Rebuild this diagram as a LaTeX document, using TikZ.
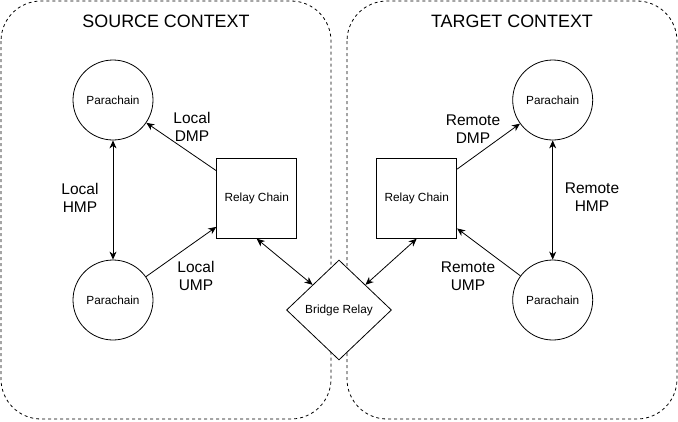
\documentclass[tikz,border=0pt]{standalone}
\usepackage{fontspec}
\setmainfont{Liberation Sans}
\usetikzlibrary{shapes,arrows,arrows.meta}

\begin{document}
\begin{tikzpicture}[x=1pt,y=-1pt,line width=0.8pt]
	\useasboundingbox (0,0) rectangle (678,421);
	% contexts
	\draw[dash pattern=on 3pt off 3pt, rounded corners=40pt] (1,1) rectangle (331,419);
	\draw[dash pattern=on 3pt off 3pt, rounded corners=40pt] (347,1) rectangle (677,419);
	\node(titleSrc) at (166,21) {\fontsize{17.9}{20}\selectfont SOURCE CONTEXT};
	\node(titleTgt) at (512,21) {\fontsize{17.9}{20}\selectfont TARGET CONTEXT};
	\begin{scope}
		[
			stylePara/.style={
				minimum size = 80pt, inner sep = 0pt, draw, circle,
				font=\fontsize{11.8}{14}\selectfont
				},
			styleRelay/.style={minimum size = 80pt, inner sep = 0pt, draw,
				font=\fontsize{11.8}{14}\selectfont},
			styleBridge/.style={minimum width = 105pt, minimum height = 100pt,
				inner sep = 0pt, draw, diamond, fill=white,
				font=\fontsize{11.8}{14}\selectfont},
			styleMsg/.style={align=center, font=\fontsize{15.5}{18}\selectfont},
		]
		\node(paSrcTop)[stylePara] at (113,100) {Parachain};
		\node(paSrcBot)[stylePara] at (113,300) {Parachain};
		\node(rcSrc)[styleRelay] at (256.7,198.3) {Relay Chain};

		\node(paTgtTop)[stylePara] at (552.7,100) {Parachain};
		\node(paTgtBot)[stylePara] at (552.7,300) {Parachain};
		\node(rcTgt)[styleRelay] at (416.7,198.3) {Relay Chain};

		\node(bridge)[styleBridge] at (339,310) {Bridge Relay};

		\node(dmpSrc)[styleMsg] at (192,127) {Local\\DMP};
		\node(hmpSrc)[styleMsg] at (80,197.5) {Local\\HMP};
		\node(umpSrc)[styleMsg] at (196,276) {Local\\UMP};
		\node(dmpTgt)[styleMsg] at (473,129) {Remote\\DMP};
		\node(hmpTgt)[styleMsg] at (592,197.5) {Remote\\HMP};
		\node(umpTgt)[styleMsg] at (468,276) {Remote\\UMP};
	\end{scope}
	\begin{scope}
		[ >={Stealth[length=8pt,width=7pt,inset=2.5pt]}, shorten >=0pt]
		\path
		(rcSrc) edge[->]                  (paSrcTop)
		(paSrcTop) edge[<->]              (paSrcBot)
		(paSrcBot) edge[->]               (rcSrc)
		(rcSrc.south) edge[<->]           (bridge.north west)

		(rcTgt.south) edge[<->]           (bridge.north east)
		(rcTgt) edge[->]                  (paTgtTop)
		(paTgtTop) edge[<->]              (paTgtBot)
		(paTgtBot) edge[->]               (rcTgt);
	\end{scope}
\end{tikzpicture}
\end{document}
